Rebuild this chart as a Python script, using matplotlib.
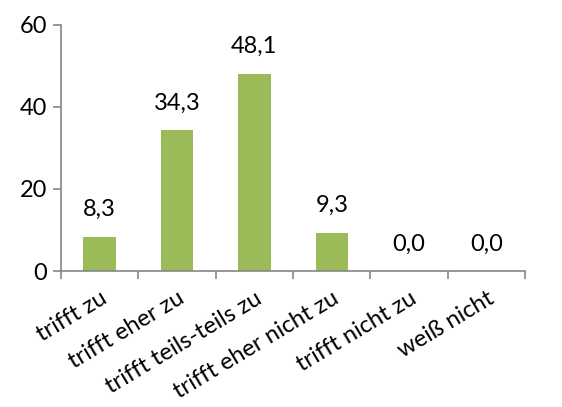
import numpy as np
import matplotlib.pyplot as plt

categories = ['trifft zu', 'trifft eher zu', 'trifft teils-teils zu',
              'trifft eher nicht zu', 'trifft nicht zu', 'weiß nicht']
values = [8.3, 34.3, 48.1, 9.3, 0.0, 0.0]
yticks = [0, 20, 40, 60]

plt.rcParams['font.family'] = ['Lato', 'DejaVu Sans']

fig = plt.figure(figsize=(5.62, 4.07), dpi=100)
ax = fig.add_axes([0.1085, 0.334, 0.826, 0.605])

x = np.arange(len(categories))
ax.bar(x, values, width=0.42, color='#9BBB59')

for xi, v in zip(x, values):
    ax.annotate(f'{v:.1f}'.replace('.', ','), (xi, v), xytext=(0, 12),
                textcoords='offset points', ha='center', va='bottom', fontsize=17)

ax.set_xlim(-0.5, len(categories) - 0.5)
ax.set_ylim(0, 60)
ax.set_yticks(yticks)
ax.set_yticklabels([str(t) for t in yticks], fontsize=17)

ax.set_xticks(x)
ax.set_xticklabels(categories, rotation=31, ha='right', rotation_mode='anchor', fontsize=17)
ax.tick_params(axis='x', length=0, pad=12)
ax.set_xticks(np.arange(len(categories) + 1) - 0.5, minor=True)
ax.tick_params(axis='x', which='minor', length=6, color='#868686', width=1.2)
ax.tick_params(axis='y', length=6, color='#868686', width=1.2, pad=4)

for s in ['top', 'right']:
    ax.spines[s].set_visible(False)
for s in ['left', 'bottom']:
    ax.spines[s].set_color('#868686')
    ax.spines[s].set_linewidth(1.2)

fig.savefig('out.png', dpi=100)
